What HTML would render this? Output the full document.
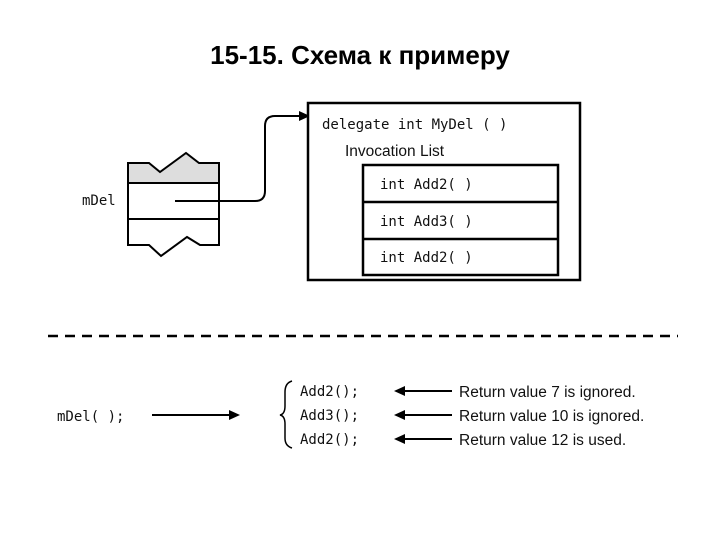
<!DOCTYPE html>
<html><head><meta charset="utf-8"><style>
body{margin:0;background:#fff;width:720px;height:540px;overflow:hidden}
svg{display:block}
.m{font-family:"DejaVu Sans Mono","Liberation Mono",monospace;font-size:14px;fill:#111}
.s{font-family:"Liberation Sans",sans-serif;font-size:15.5px;fill:#111}
</style></head><body>
<svg width="720" height="540" viewBox="0 0 720 540">
<text x="360" y="64" text-anchor="middle" font-family="Liberation Sans,sans-serif" font-weight="bold" font-size="26" fill="#000">15-15. Схема к примеру</text>
<!-- left block -->
<polygon points="128,163 149,163 160,172 186,153 199,163 219,163 219,183 128,183" fill="#ddd" stroke="#000" stroke-width="2"/>
<rect x="128" y="183" width="91" height="36" fill="#fff" stroke="#000" stroke-width="2"/>
<polyline points="128,219 128,245 149,245 161,256 187,237 200,245 219,245 219,219" fill="none" stroke="#000" stroke-width="2"/>
<text x="82" y="205" class="m">mDel</text>
<path d="M175,201 H255 Q265,201 265,191 V126 Q265,116 275,116 H300" fill="none" stroke="#000" stroke-width="2"/>
<polygon points="310,116 299,111 299,121" fill="#000"/>
<!-- big box -->
<rect x="308" y="103" width="272" height="177" fill="#fff" stroke="#000" stroke-width="2.5"/>
<text x="322" y="129" class="m">delegate int MyDel (  )</text>
<text x="345" y="156" class="s">Invocation List</text>
<rect x="363" y="165" width="195" height="110" fill="#fff" stroke="#000" stroke-width="2.5"/>
<line x1="363" y1="202" x2="558" y2="202" stroke="#000" stroke-width="2.5"/>
<line x1="363" y1="239" x2="558" y2="239" stroke="#000" stroke-width="2.5"/>
<text x="380" y="189" class="m">int Add2( )</text>
<text x="380" y="226" class="m">int Add3( )</text>
<text x="380" y="262" class="m">int Add2( )</text>
<!-- dashed -->
<line x1="48" y1="336" x2="678" y2="336" stroke="#000" stroke-width="2.5" stroke-dasharray="10,7"/>
<!-- bottom -->
<text x="57" y="421" class="m">mDel( );</text>
<line x1="152" y1="415" x2="232" y2="415" stroke="#000" stroke-width="2"/>
<polygon points="240,415 229,410 229,420" fill="#000"/>
<path d="M292,381 Q285,383 285,392 V406 Q285,414 280,415 Q285,416 285,424 V438 Q285,446 292,448" fill="none" stroke="#000" stroke-width="1.5"/>
<text x="300" y="396" class="m">Add2();</text>
<text x="300" y="420" class="m">Add3();</text>
<text x="300" y="444" class="m">Add2();</text>
<g stroke="#000" stroke-width="2">
<line x1="402" y1="391" x2="452" y2="391"/><line x1="402" y1="415" x2="452" y2="415"/><line x1="402" y1="439" x2="452" y2="439"/>
</g>
<g fill="#000">
<polygon points="394,391 405,386 405,396"/><polygon points="394,415 405,410 405,420"/><polygon points="394,439 405,434 405,444"/>
</g>
<text x="459" y="397" class="s">Return value 7 is ignored.</text>
<text x="459" y="421" class="s">Return value 10 is ignored.</text>
<text x="459" y="445" class="s">Return value 12 is used.</text>
</svg>
</body></html>
